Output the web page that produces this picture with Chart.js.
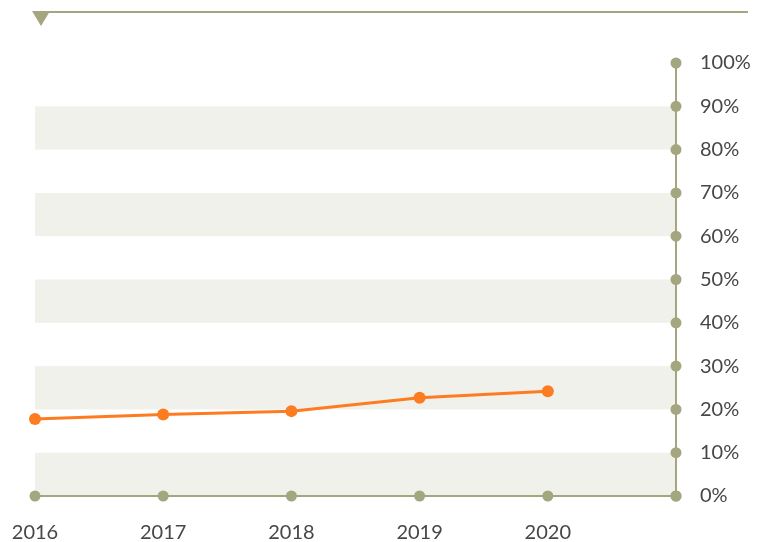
<!DOCTYPE html>
<html>
<head>
<meta charset="utf-8">
<script src="https://cdn.jsdelivr.net/npm/chart.js@4"></script>
<style>
  html, body { margin: 0; padding: 0; background: #fff; }
  #wrap { width: 766px; height: 542px; position: relative; }
</style>
</head>
<body>
<div id="wrap"><canvas id="c"></canvas></div>
<script>
// data
const years = [2016, 2017, 2018, 2019, 2020];
const shares = [17.8, 18.8, 19.6, 22.7, 24.2];
const yTicks = [0, 10, 20, 30, 40, 50, 60, 70, 80, 90, 100];
const bandRanges = [[0, 10], [20, 30], [40, 50], [60, 70], [80, 90]];

const AXIS = '#a4a67f';
const BAND = '#f1f1ec';
const ORANGE = '#fd7b21';
const TEXT = '#474747';
const FONT = "Lato, sans-serif";

// bands behind the line, dots on the axes, rule + marker on top
const decor = {
  id: 'decor',
  beforeDatasetsDraw(chart) {
    const { ctx, chartArea, scales: { y } } = chart;
    ctx.save();
    ctx.fillStyle = BAND;
    bandRanges.forEach(([a, b]) => {
      const top = y.getPixelForValue(b);
      const bot = y.getPixelForValue(a);
      ctx.fillRect(chartArea.left, top, chartArea.right - chartArea.left, bot - top);
    });
    ctx.restore();
  },
  afterDatasetsDraw(chart) {
    const { ctx, chartArea, scales: { x, y } } = chart;
    ctx.save();
    ctx.strokeStyle = AXIS;
    ctx.lineWidth = 2;
    ctx.beginPath();
    ctx.moveTo(chartArea.left, chartArea.bottom);
    ctx.lineTo(chartArea.right, chartArea.bottom);
    ctx.moveTo(chartArea.right, chartArea.bottom);
    ctx.lineTo(chartArea.right, chartArea.top);
    ctx.stroke();
    ctx.fillStyle = AXIS;
    x.ticks.forEach(t => {
      ctx.beginPath();
      ctx.arc(x.getPixelForValue(t.value), chartArea.bottom, 5.5, 0, Math.PI * 2);
      ctx.fill();
    });
    yTicks.forEach(v => {
      ctx.beginPath();
      ctx.arc(chartArea.right, y.getPixelForValue(v), 5.5, 0, Math.PI * 2);
      ctx.fill();
    });
    // top rule with the little down triangle
    const ruleY = 12;
    ctx.beginPath();
    ctx.moveTo(chartArea.left, ruleY);
    ctx.lineTo(chart.width - 18, ruleY);
    ctx.stroke();
    ctx.beginPath();
    ctx.moveTo(chartArea.left - 3, ruleY - 1);
    ctx.lineTo(chartArea.left + 15, ruleY - 1);
    ctx.lineTo(chartArea.left + 6, ruleY + 14);
    ctx.closePath();
    ctx.fill();
    ctx.restore();
  }
};

new Chart(document.getElementById('c'), {
  type: 'line',
  data: {
    datasets: [{
      data: years.map((yr, i) => ({ x: yr, y: shares[i] })),
      borderColor: ORANGE,
      backgroundColor: ORANGE,
      borderWidth: 3,
      pointRadius: 6,
      pointHoverRadius: 6,
      pointBorderWidth: 0,
      tension: 0,
      clip: false,
    }]
  },
  options: {
    responsive: true,
    maintainAspectRatio: false,
    animation: false,
    layout: { padding: { left: 35, right: 0, top: 63, bottom: 0 } },
    plugins: { legend: { display: false }, tooltip: { enabled: false } },
    scales: {
      x: {
        type: 'linear',
        min: 2016,
        max: 2021,
        grid: { display: false, drawTicks: false },
        border: { display: false },
        afterFit: s => { s.height = 46; s.paddingLeft = 0; s.paddingRight = 0; },
        ticks: {
          stepSize: 1,
          padding: 25,
          maxRotation: 0,
          minRotation: 0,
          color: TEXT,
          font: { family: FONT, size: 20 },
          callback: v => (v <= years[years.length - 1] ? String(v) : ''),
        },
      },
      y: {
        position: 'right',
        min: 0,
        max: 100,
        grid: { display: false, drawTicks: false },
        border: { display: false },
        afterFit: s => { s.width = 90; s.paddingTop = 0; s.paddingBottom = 0; },
        ticks: {
          stepSize: 10,
          padding: 24,
          color: TEXT,
          font: { family: FONT, size: 20 },
          callback: v => v + '%',
        },
      },
    },
  },
  plugins: [decor],
});
</script>
</body>
</html>
